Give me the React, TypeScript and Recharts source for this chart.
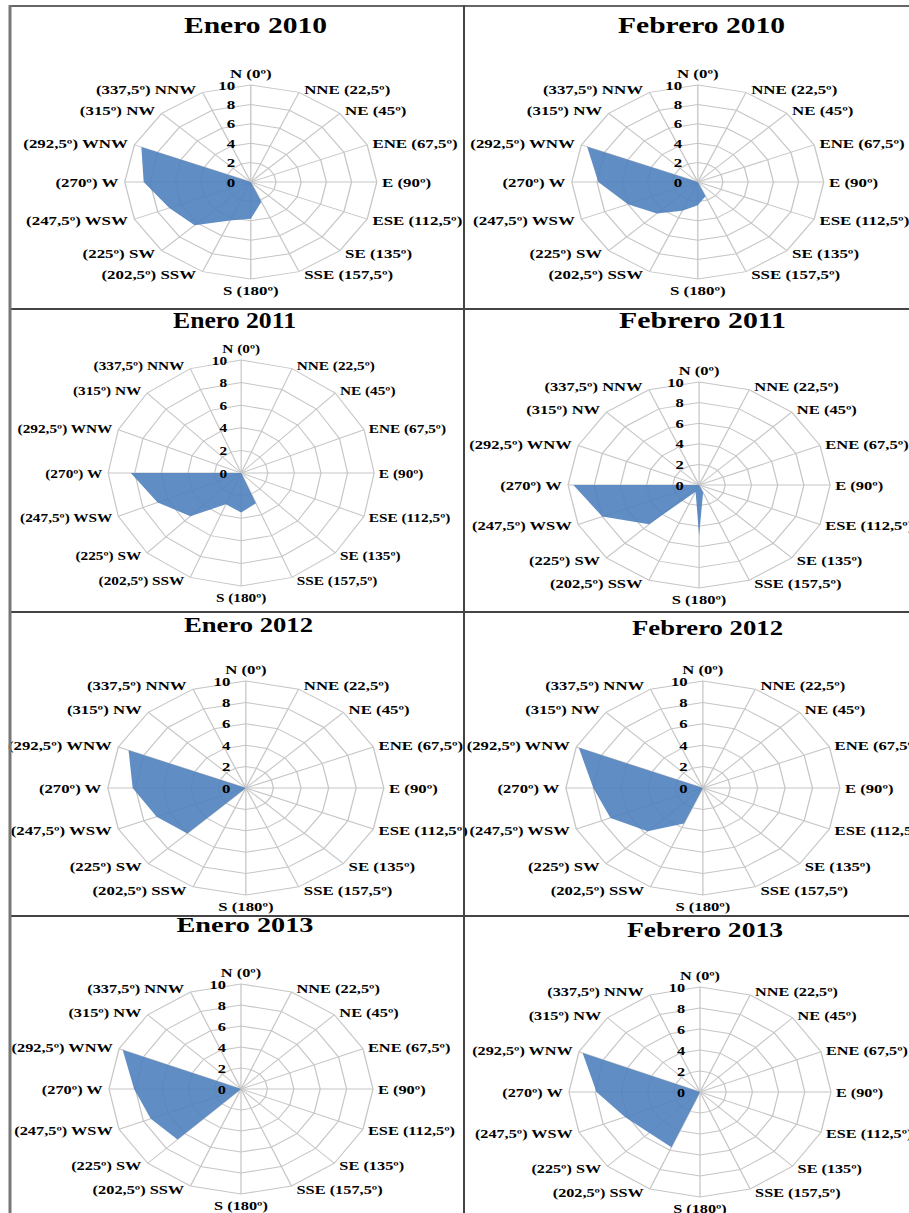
import React from 'react';
import { RadarChart, Radar, PolarGrid, PolarAngleAxis, PolarRadiusAxis } from 'recharts';

// wind directions, clockwise from north
const directions = [
  'N (0º)', 'NNE (22,5º)', 'NE (45º)', 'ENE (67,5º)', 'E (90º)', 'ESE (112,5º)',
  'SE (135º)', 'SSE (157,5º)', 'S (180º)', '(202,5º) SSW', '(225º) SW',
  '(247,5º) WSW', '(270º) W', '(292,5º) WNW', '(315º) NW', '(337,5º) NNW',
];

const titles = [
  'Enero 2010', 'Febrero 2010', 'Enero 2011', 'Febrero 2011',
  'Enero 2012', 'Febrero 2012', 'Enero 2013', 'Febrero 2013',
];

// frequencies per direction (N ... NNW)
const enero2010 = [0, 0, 0, 0, 0, 0, 0, 2.2, 3.8, 4.3, 6.3, 7.0, 8.5, 9.4, 0, 0];
const febrero2010 = [0, 0, 0, 0, 0, 0, 0, 1.6, 2.4, 3.2, 4.6, 6.0, 7.9, 9.5, 0, 0];
const enero2011 = [0, 0, 0, 0, 0, 0, 0, 2.9, 3.5, 3.0, 5.4, 6.8, 8.3, 0, 0, 0];
const febrero2011 = [0, 0, 0, 0, 0, 0, 0, 0.8, 4.9, 0.7, 5.4, 8.0, 9.6, 0, 0, 0];
const enero2012 = [0, 0, 0, 0, 0, 0, 0, 0, 0, 0, 6.0, 7.0, 8.2, 9.2, 0, 0];
const febrero2012 = [0, 0, 0, 0, 0, 0, 0, 0, 0, 3.6, 5.7, 7.3, 8.0, 9.8, 0, 0];
const enero2013 = [0, 0, 0, 0, 0, 0, 0, 0, 0, 0, 6.8, 7.4, 8.1, 9.7, 0, 0];
const febrero2013 = [0, 0, 0, 0, 0, 0, 0, 0, 0, 5.7, 5.5, 6.2, 7.9, 9.7, 0, 0];

const series = [enero2010, febrero2010, enero2011, febrero2011, enero2012, febrero2012, enero2013, febrero2013];

const radiusDomain = [0, 10];

// page layout: chart centre, horizontal / vertical radius, title centre, baseline, width, font size
const layout = [
  { cx: 251, cy: 182, rx: 126, ry: 97, tx: 255.5, ty: 33, tw: 143, fs: 24 },
  { cx: 698, cy: 182, rx: 126, ry: 97, tx: 701.5, ty: 33, tw: 167, fs: 24 },
  { cx: 241, cy: 473, rx: 133, ry: 113, tx: 234.5, ty: 328, tw: 123, fs: 23 },
  { cx: 699, cy: 485, rx: 131, ry: 103, tx: 702.5, ty: 328, tw: 167, fs: 23 },
  { cx: 246, cy: 788, rx: 138, ry: 107, tx: 248.5, ty: 632, tw: 129, fs: 21 },
  { cx: 703, cy: 788, rx: 137, ry: 107, tx: 707.5, ty: 635, tw: 151, fs: 21 },
  { cx: 241, cy: 1089, rx: 132, ry: 105, tx: 245, ty: 932, tw: 137, fs: 21 },
  { cx: 700, cy: 1092, rx: 131, ry: 105, tx: 705, ty: 937, tw: 156, fs: 21 },
];

const FONT = '"Liberation Serif", "Times New Roman", serif';
const BLUE = '#4f81bd';
const GRID = '#c6c6c6';
const CW = 420;

type PanelProps = { values: number[]; cx: number; cy: number; rx: number; ry: number };

function RosePanel({ values, cx, cy, rx, ry }: PanelProps) {
  const s = rx / ry;
  const lcx = CW / 2;
  const lcy = ry + 34;
  const H = 2 * ry + 70;
  const data = directions.map((d, i) => ({ dir: d, value: values[i] }));

  const angleTick = (p: any) => {
    const a = (p.payload.coordinate * Math.PI) / 180;
    const c = Math.cos(a);
    const sn = Math.sin(a);
    const vx = lcx + ry * c;
    const vy = lcy - ry * sn;
    const vertical = Math.abs(c) < 0.01;
    const x = vertical ? vx : vx + (c > 0 ? 4 : -5);
    const y = vertical ? vy - 11.5 * sn : vy - 3.5 * sn;
    const anchor = vertical ? 'middle' : c > 0 ? 'start' : 'end';
    return (
      <text x={x} y={y} dy="0.35em" textAnchor={anchor} fontFamily={FONT} fontWeight="bold" fontSize={13} fill="#000">
        {p.payload.value}
      </text>
    );
  };

  const radiusTick = (p: any) => (
    <text x={p.x - 12} y={p.y} dy="0.35em" textAnchor="end" fontFamily={FONT} fontWeight="bold" fontSize={13} fill="#000">
      {p.payload.value}
    </text>
  );

  return (
    <div
      style={{
        position: 'absolute',
        left: cx - lcx * s,
        top: cy - lcy,
        width: CW,
        height: H,
        transform: `scaleX(${s})`,
        transformOrigin: '0 0',
      }}
    >
      <RadarChart width={CW} height={H} data={data} cx={lcx} cy={lcy} outerRadius={ry} margin={{ top: 0, right: 0, bottom: 0, left: 0 }}>
        <PolarGrid gridType="polygon" stroke={GRID} strokeWidth={1} />
        <PolarAngleAxis dataKey="dir" tick={angleTick} tickLine={false} axisLine={false} />
        <PolarRadiusAxis angle={90} domain={radiusDomain} tickCount={6} axisLine={false} tickLine={false} tick={radiusTick} />
        <Radar dataKey="value" fill={BLUE} fillOpacity={0.9} stroke="none" isAnimationActive={false} />
      </RadarChart>
    </div>
  );
}

export default function App() {
  return (
    <div style={{ position: 'absolute', left: 0, top: 0, width: 909, height: 1213, overflow: 'hidden', background: '#fff' }}>
      {series.map((v, i) => (
        <RosePanel key={titles[i]} values={v} cx={layout[i].cx} cy={layout[i].cy} rx={layout[i].rx} ry={layout[i].ry} />
      ))}
      <svg width={909} height={1213} style={{ position: 'absolute', left: 0, top: 0 }}>
        {titles.map((t, i) => (
          <text
            key={t}
            x={layout[i].tx}
            y={layout[i].ty}
            textAnchor="middle"
            textLength={layout[i].tw}
            lengthAdjust="spacingAndGlyphs"
            fontFamily={FONT}
            fontWeight="bold"
            fontSize={layout[i].fs}
            fill="#000"
          >
            {t}
          </text>
        ))}
        <line x1={9} y1={6} x2={920} y2={6} stroke="#666" strokeWidth={2} />
        <line x1={9} y1={309} x2={920} y2={309} stroke="#444" strokeWidth={2} />
        <line x1={9} y1={612} x2={920} y2={612} stroke="#444" strokeWidth={2} />
        <line x1={9} y1={916} x2={920} y2={916} stroke="#444" strokeWidth={2} />
        <line x1={10} y1={5} x2={10} y2={1220} stroke="#777" strokeWidth={3} />
        <line x1={464} y1={5} x2={464} y2={1220} stroke="#444" strokeWidth={2} />
      </svg>
    </div>
  );
}
